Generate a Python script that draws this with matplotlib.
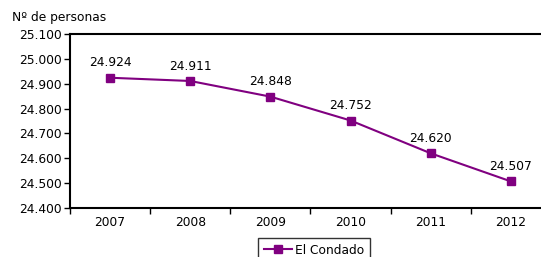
import matplotlib
matplotlib.use("Agg")
import matplotlib.pyplot as plt
from matplotlib.ticker import FuncFormatter

# data
years = ["2007", "2008", "2009", "2010", "2011", "2012"]
personas = [24924, 24911, 24848, 24752, 24620, 24507]
serie = "El Condado"

W, H = 541, 257
fig = plt.figure(figsize=(W / 100, H / 100), dpi=100)
plt.rcParams['font.family'] = ['DejaVu Sans']
color = "#800080"
fs = 8.8

# axes box in pixels: left 70, top 34, bottom 208, right 551 (cut off)
ax = fig.add_axes([70 / W, 1 - 208 / H, 481 / W, 174 / H])
x = list(range(len(years)))
line, = ax.plot(x, personas, color=color, lw=1.5, marker="s", ms=5.5,
                label=serie)

for xi, v in zip(x, personas):
    txt = f"{v:,}".replace(",", ".")
    ax.annotate(txt, (xi, v), xytext=(0, 6), textcoords="offset points",
                ha="center", va="bottom", fontsize=fs)

ax.set_xlim(-0.5, len(years) - 0.5)
ax.set_ylim(24400, 25100)
ax.set_yticks(range(24400, 25101, 100))
ax.yaxis.set_major_formatter(FuncFormatter(lambda v, p: f"{int(v):,}".replace(",", ".")))
ax.set_xticks([i + 0.5 for i in range(-1, len(years))])
ax.set_xticklabels([])
ax.set_xticks(x, minor=True)
ax.set_xticklabels(years, minor=True)
ax.tick_params(axis="x", which="minor", length=0, labelsize=fs, pad=6)
ax.tick_params(axis="x", which="major", length=4, width=1, direction="out")
ax.tick_params(axis="y", length=4, width=1, labelsize=fs, pad=2)
for s in ax.spines.values():
    s.set_linewidth(1.5)
    s.set_color("black")
ax.spines["right"].set_visible(False)

fig.text(12 / W, 1 - 18 / H, "Nº de personas", fontsize=fs, va="center", ha="left")

fig.legend(handles=[line], loc="upper left", bbox_to_anchor=(258 / W, 1 - 238 / H),
           frameon=True, fancybox=False, edgecolor="black", fontsize=fs,
           handlelength=2.3, borderpad=0.45, handletextpad=0.3,
           borderaxespad=0)

fig.savefig("out.png", dpi=100)
